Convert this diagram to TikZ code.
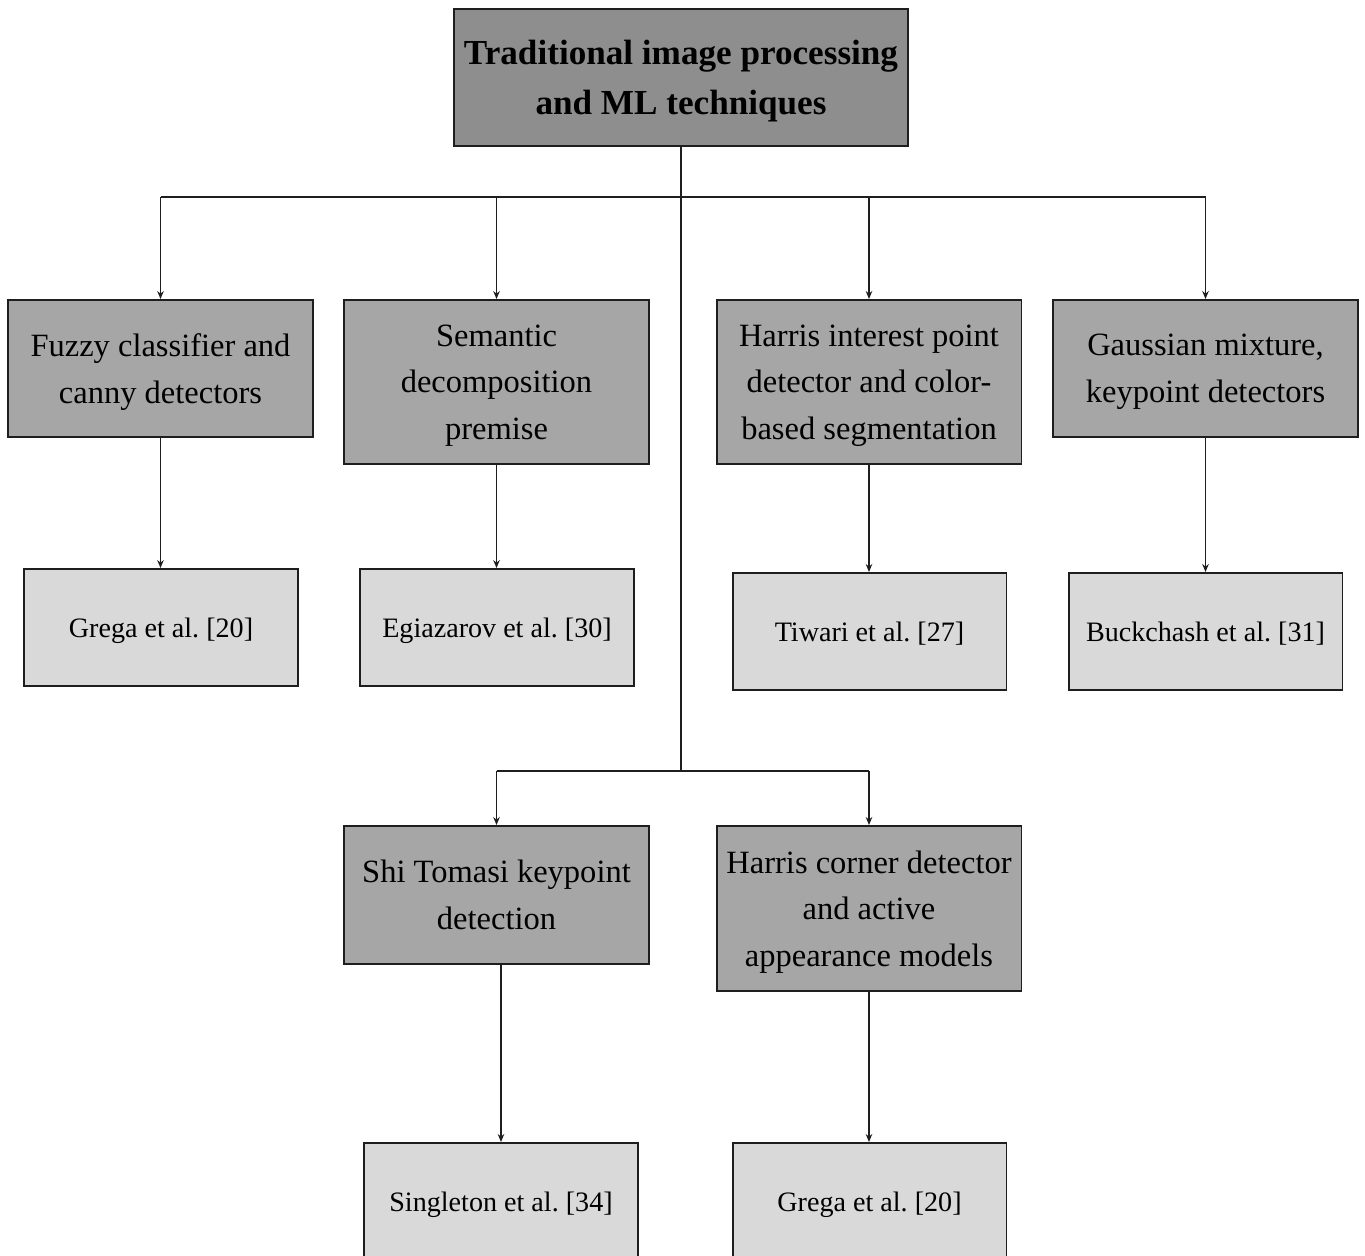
\documentclass[tikz,border=0pt]{standalone}
\usepackage{fontspec}
\setmainfont{Liberation Serif}
\frenchspacing
\usetikzlibrary{arrows.meta}
\definecolor{rootfill}{RGB}{142,142,142}
\definecolor{midfill}{RGB}{166,166,166}
\definecolor{leaffill}{RGB}{217,217,217}
\definecolor{edge}{RGB}{30,30,30}
\begin{document}
\begin{tikzpicture}[x=0.02cm,y=-0.02cm,
  box/.style={draw=edge,line width=1.1pt,rectangle,inner sep=0pt,align=center},
  rootbox/.style={box,fill=rootfill,minimum width=9.08cm,minimum height=2.74cm,
    text depth=-1.6pt,font=\bfseries\fontsize{20}{28.5}\selectfont},
  midbox/.style={box,fill=midfill,minimum width=6.1cm,
    text depth=-5.5pt,font=\fontsize{18.5}{26.6}\selectfont},
  leafbox/.style={box,fill=leaffill,minimum width=5.48cm,minimum height=2.34cm,
    text depth=-1pt,font=\fontsize{16}{20}\selectfont},
  link/.style={draw=edge,line width=1.1pt},
  arrow/.style={link,-{Stealth[length=1.6mm,width=1.3mm]}}]
\clip (0,0) rectangle (1365,1256);
\fill[white] (0,0) rectangle (1365,1256);

% root
\node[rootbox] (root) at (681,77.5) {Traditional image processing\\and ML techniques};

% first level
\node[midbox,minimum height=2.74cm] (fuzzy) at (160.5,368.5) {Fuzzy classifier and\\canny detectors};
\node[midbox,minimum height=3.28cm] (sem) at (496.5,382) {Semantic\\decomposition\\premise};
\node[midbox,minimum height=3.28cm] (harris) at (869,382) {Harris interest point\\detector and color-\\based segmentation};
\node[midbox,minimum height=2.74cm] (gauss) at (1205.5,368.5) {Gaussian mixture,\\keypoint detectors};

% second level
\node[midbox,minimum height=2.76cm] (shi) at (496.5,895) {Shi Tomasi keypoint\\detection};
\node[midbox,minimum height=3.3cm] (corner) at (869,908.5) {Harris corner detector\\and active\\appearance models};

% references
\node[leafbox] (grega) at (161,627.5) {Grega et al. [20]};
\node[leafbox] (egia) at (497,627.5) {Egiazarov et al. [30]};
\node[leafbox] (tiwari) at (869.5,631.5) {Tiwari et al. [27]};
\node[leafbox] (buck) at (1205.5,631.5) {Buckchash et al. [31]};
\node[leafbox] (single) at (501,1201.5) {Singleton et al. [34]};
\node[leafbox] (gregb) at (869.5,1201.5) {Grega et al. [20]};

% bus lines
\coordinate (bus) at (681,197);
\coordinate (lowbus) at (681,771);
\draw[link] (root.south) -- (lowbus);
\draw[link] (fuzzy.north |- bus) -- (gauss.north |- bus);
\draw[link] (shi.north |- lowbus) -- (corner.north |- lowbus);

% branches from the upper bus
\foreach \n in {fuzzy,sem,harris,gauss}
  \draw[arrow] (\n.north |- bus) -- (\n.north);
% branches from the lower bus
\foreach \n in {shi,corner}
  \draw[arrow] (\n.north |- lowbus) -- (\n.north);

% down to the references
\draw[arrow] (fuzzy.south) -- (grega.north -| fuzzy.south);
\draw[arrow] (sem.south) -- (egia.north -| sem.south);
\draw[arrow] (harris.south) -- (tiwari.north -| harris.south);
\draw[arrow] (gauss.south) -- (buck.north -| gauss.south);
\draw[arrow] (shi.south -| single.north) -- (single.north);
\draw[arrow] (corner.south) -- (gregb.north -| corner.south);
\end{tikzpicture}
\end{document}
